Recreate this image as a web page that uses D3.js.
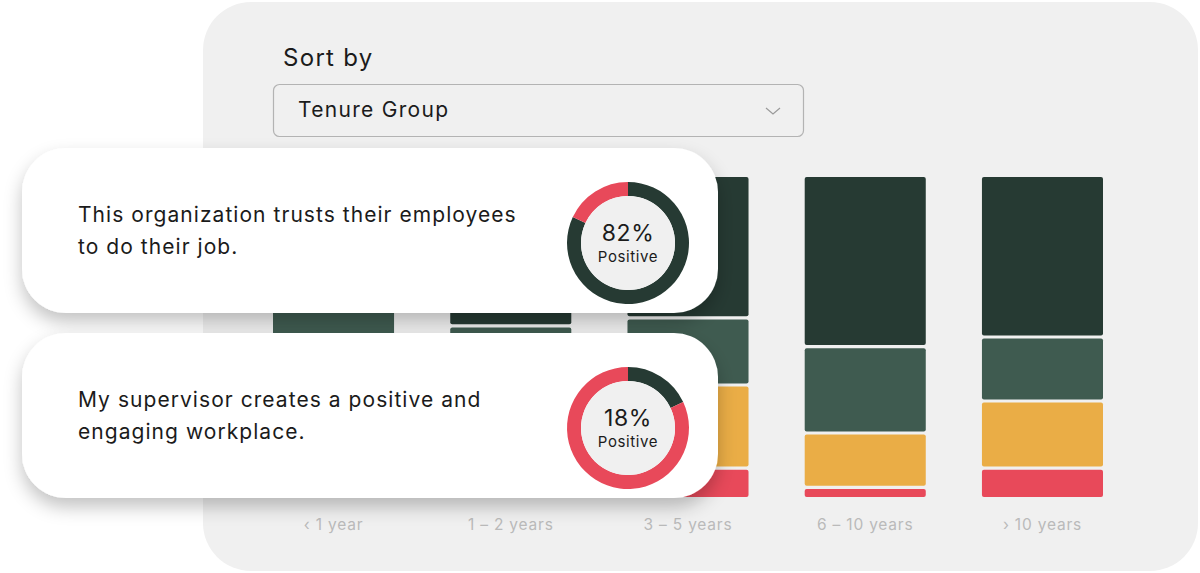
<!DOCTYPE html>
<html><head><meta charset="utf-8">
<script src="https://cdn.jsdelivr.net/npm/d3@7"></script>
<style>html,body{margin:0;padding:0;background:#fff;overflow:hidden}svg{display:block}</style>
</head><body>
<svg id="c" width="1200" height="573"></svg>
<script>
// ---- data ----
const categories = ["‹ 1 year", "1 – 2 years", "3 – 5 years", "6 – 10 years", "› 10 years"];
const segmentKeys = ["veryPositive", "positive", "neutral", "negative"];
const veryPositive = [40, 46.5, 44, 53, 50];
const positive     = [25, 20, 21, 27, 20];
const neutral      = [24, 23.5, 26, 17, 21];
const negative     = [11, 10,  9,  3,  9];
const sortLabel = "Sort by";
const sortValue = "Tenure Group";
const questions = ["This organization trusts their employees|to do their job.", "My supervisor creates a positive and|engaging workplace."];
const questionPositive = [82, 18];

const colors = {veryPositive:"#263a33", positive:"#3f5b50", neutral:"#eaad46", negative:"#e8495a"};
const font = "Inter, 'Open Sans', sans-serif";

const svg = d3.select("#c");
const defs = svg.append("defs");
const f = defs.append("filter").attr("id","sh").attr("x","-20%").attr("y","-30%").attr("width","140%").attr("height","170%");
f.append("feDropShadow").attr("dx",0).attr("dy",9).attr("stdDeviation",9).attr("flood-color","#000").attr("flood-opacity",0.24);

// panel
svg.append("rect").attr("x",203).attr("y",2).attr("width",995).attr("height",569).attr("rx",48).attr("fill","#f0f0f0");

svg.append("text").attr("x",283).attr("y",66).text(sortLabel)
  .attr("font-family",font).attr("font-size",24).attr("letter-spacing",1.3).attr("fill","#1b1b1b");
svg.append("rect").attr("x",273.5).attr("y",84.5).attr("width",530).attr("height",52).attr("rx",6)
  .attr("fill","#f0f0f0").attr("stroke","#b3b3b3").attr("stroke-width",1.2);
svg.append("text").attr("x",298).attr("y",117).text(sortValue)
  .attr("font-family",font).attr("font-size",21).attr("letter-spacing",1.3).attr("fill","#1b1b1b");
svg.append("path").attr("d","M766,108 l7,6 l7,-6").attr("fill","none").attr("stroke","#9a9a9a").attr("stroke-width",1.2);

// bars
const rows = categories.map((c,i)=>({cat:c, veryPositive:veryPositive[i], positive:positive[i], neutral:neutral[i], negative:negative[i]}));
const stack = d3.stack().keys(segmentKeys)(rows);
const x = d3.scaleBand().domain(categories).range([273,1103]).paddingInner(0.317).paddingOuter(0);
const y = d3.scaleLinear().domain([0,100]).range([177,497]);
const gap = 1.6;
const bars = svg.append("g");
stack.forEach((layer, li)=>{
  bars.selectAll(null).data(layer).enter().append("rect")
    .attr("x", d=>x(d.data.cat))
    .attr("width", x.bandwidth())
    .attr("y", d=> y(d[0]) + (li>0?gap:0))
    .attr("height", d=> y(d[1]) - y(d[0]) - (li>0?gap:0) - (li<segmentKeys.length-1?gap:0))
    .attr("rx",2)
    .attr("fill", colors[layer.key]);
});
const xAxis = svg.append("g").attr("transform","translate(0,530)")
  .call(d3.axisBottom(x).tickSize(0).tickPadding(0));
xAxis.select(".domain").remove();
xAxis.selectAll("text").attr("font-family",font).attr("font-size",15.5).attr("letter-spacing",0.8).attr("fill","#bababa").attr("dy","0");

// cards
const cardTop = [148, 333];
const arc = d3.arc().innerRadius(47).outerRadius(61);
questions.forEach((q,i)=>{
  const g = svg.append("g").attr("transform",`translate(22,${cardTop[i]})`);
  g.append("rect").attr("width",696).attr("height",165).attr("rx",44).attr("fill","#fff").attr("filter","url(#sh)");
  const lines = q.split("|");
  const t = g.append("text").attr("font-family",font).attr("font-size",21).attr("letter-spacing",1.05).attr("fill","#1b1b1b");
  lines.forEach((l,j)=>t.append("tspan").attr("x",56).attr("y",74+j*32).text(l));
  const dg = g.append("g").attr("transform","translate(606,95)");
  const pie = d3.pie().sort(null)([questionPositive[i], 100-questionPositive[i]]);
  dg.selectAll("path").data(pie).enter().append("path").attr("d",arc)
    .attr("fill",(d,k)=>k===0?colors.veryPositive:colors.negative);
  dg.append("circle").attr("r",47).attr("fill","#f0f0f0");
  dg.append("text").attr("text-anchor","middle").attr("y",-2).text(questionPositive[i]+"%")
    .attr("font-family",font).attr("font-size",23).attr("letter-spacing",0.6).attr("fill","#1b1b1b");
  dg.append("text").attr("text-anchor","middle").attr("y",19).text("Positive")
    .attr("font-family",font).attr("font-size",15).attr("letter-spacing",0.6).attr("fill","#1b1b1b");
});
</script>
</body></html>
